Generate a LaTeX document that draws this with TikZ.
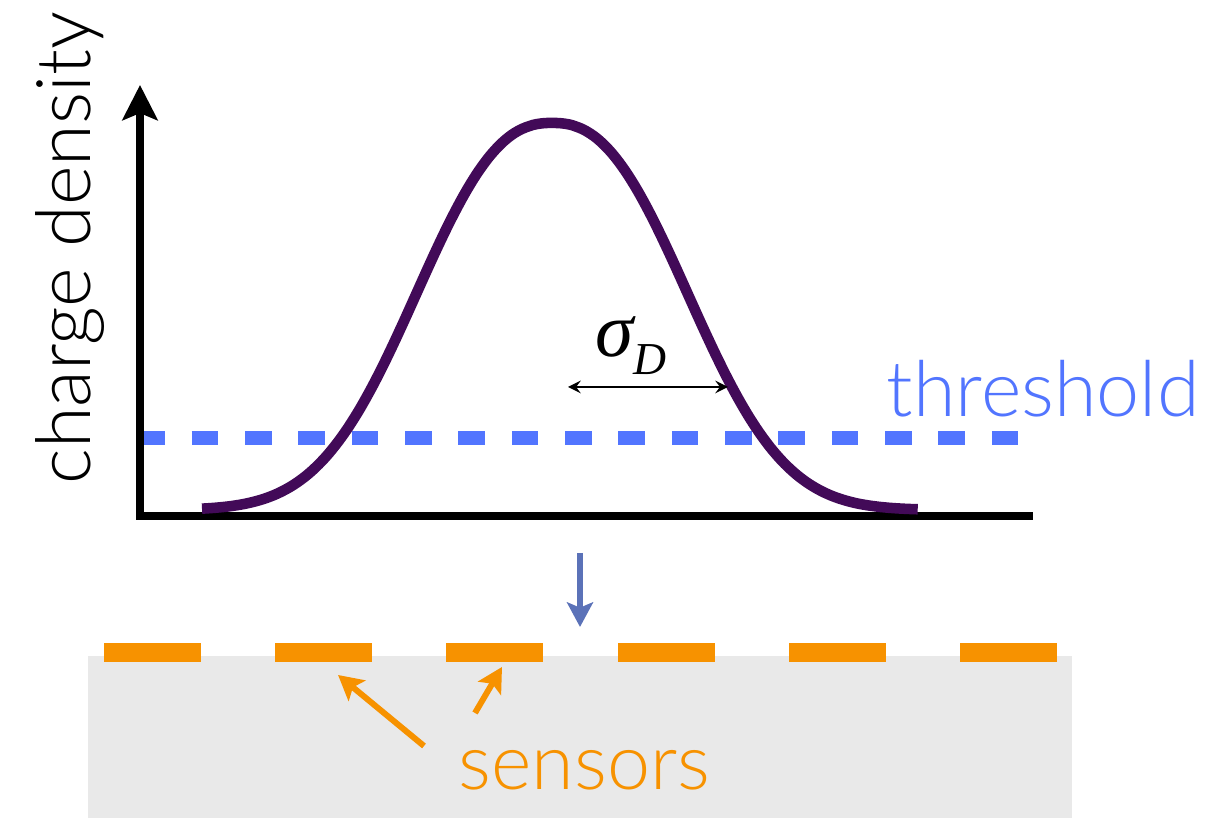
\documentclass[tikz,border=0pt]{standalone}
\usepackage{fontspec}
\newfontfamily\thinfont{Lato Light}
\newfontfamily\sigmafont{Liberation Serif}
\usepackage{tikz}
\usetikzlibrary{arrows.meta,calc,positioning}
\definecolor{pulsepurple}{RGB}{66,10,88}
\definecolor{threshblue}{RGB}{82,117,255}
\definecolor{dropblue}{RGB}{91,114,184}
\definecolor{sensorange}{RGB}{247,146,0}
\definecolor{padgrey}{RGB}{233,233,233}
\tikzset{>=stealth}
\tikzset{
  axisline/.style={line width=2.2pt,black},
  pulseline/.style={line width=3pt,pulsepurple},
  threshline/.style={line width=3.8pt,threshblue,dash pattern=on 0.2667cm off 0.2667cm},
  sensorarrow/.style={line width=1.7pt,sensorange,-{Stealth[length=7pt,width=7.5pt,inset=1.5pt]}},
  biglabel/.style={font=\thinfont\fontsize{22}{26}\selectfont,inner sep=0pt}
}

\begin{document}
\begin{tikzpicture}
				\useasboundingbox (0,0) rectangle (12.30,8.18);
				\coordinate (O) at (1.40,3.02);
				\coordinate (Y) at (1.40,7.33);
				\coordinate (X) at (10.33,3.02);
				\fill[padgrey] (0.88,0) rectangle (10.72,1.62);
				\foreach \i in {0,...,5}
					\fill[sensorange] ({1.04+1.712*\i},1.56) rectangle ++(0.97,0.19);
				\draw[threshline] (1.384,3.80) -- (10.184,3.80);
				\draw[axisline,-{Stealth[length=10pt,width=10pt,inset=2pt]}] ([yshift=-1.1pt]O) -- (Y);
				\draw[axisline] ([xshift=-1.1pt]O) -- (X);
				\draw[pulseline] plot[domain=2.02:9.18,samples=200,smooth]
					(\x,{3.08+3.87*exp(-pow(abs(\x-5.52)/1.70+0.0001,2.4))});
				\coordinate (sL) at (5.68,4.31);
				\coordinate (sR) at (7.28,4.31);
				\draw[line width=0.6pt,<->] (sL) -- (sR);
				\node[anchor=base west,inner sep=0pt] (sigma) at (5.95,4.61)
					{\sigmafont\itshape\fontsize{22}{24}\selectfont σ\raisebox{-5pt}{\fontsize{13}{15}\selectfont D}};
				\node[biglabel,rotate=90,anchor=base west,font=\thinfont\fontsize{21.5}{24}\selectfont] (ylabel) at (0.90,3.33) {charge density};
				\node[biglabel,threshblue,anchor=base west] (thrlabel) at (8.86,4.01) {threshold};
				\coordinate (dropTop) at (5.80,2.65);
				\coordinate (dropTip) at (5.80,1.91);
				\draw[line width=1.5pt,dropblue,-{Stealth[length=7pt,width=7.4pt,inset=1.5pt]}] (dropTop) -- (dropTip);
				\node[biglabel,sensorange,anchor=base west] (senslabel) at (4.58,0.28) {sensors};
				\coordinate (tailA) at (4.24,0.72);
				\coordinate (tipA) at (3.38,1.43);
				\coordinate (tailB) at (4.75,1.05);
				\coordinate (tipB) at (5.02,1.51);
				\draw[sensorarrow] (tailA) -- (tipA);
				\draw[sensorarrow] (tailB) -- (tipB);
\end{tikzpicture}
\end{document}
